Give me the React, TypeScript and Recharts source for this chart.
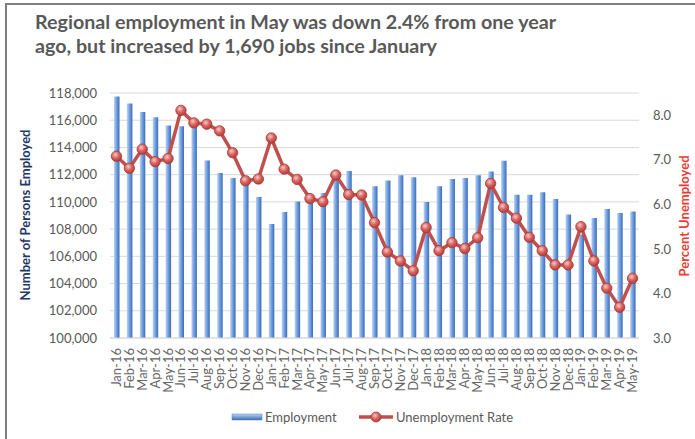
import React from 'react';
import { ComposedChart, Bar, Line, XAxis, YAxis, CartesianGrid } from 'recharts';

const months = [
  'Jan-16', 'Feb-16', 'Mar-16', 'Apr-16', 'May-16', 'Jun-16', 'Jul-16', 'Aug-16', 'Sep-16', 'Oct-16', 'Nov-16', 'Dec-16',
  'Jan-17', 'Feb-17', 'Mar-17', 'Apr-17', 'May-17', 'Jun-17', 'Jul-17', 'Aug-17', 'Sep-17', 'Oct-17', 'Nov-17', 'Dec-17',
  'Jan-18', 'Feb-18', 'Mar-18', 'Apr-18', 'May-18', 'Jun-18', 'Jul-18', 'Aug-18', 'Sep-18', 'Oct-18', 'Nov-18', 'Dec-18',
  'Jan-19', 'Feb-19', 'Mar-19', 'Apr-19', 'May-19',
];

const employment = [
  117750, 117220, 116600, 116210, 115620, 115550, 115700, 113050, 112130, 111760, 111600, 110360,
  108380, 109260, 110020, 110200, 110650, 112000, 112270, 110550, 111140, 111580, 111950, 111810,
  110000, 111150, 111690, 111760, 111950, 112240, 113030, 110530, 110530, 110700, 110210, 109070,
  107610, 108820, 109480, 109180, 109300,
];

const unemploymentRate = [
  7.08, 6.81, 7.24, 6.96, 7.03, 8.11, 7.83, 7.8, 7.65, 7.16, 6.53, 6.57,
  7.49, 6.79, 6.56, 6.13, 6.06, 6.66, 6.22, 6.21, 5.59, 4.93, 4.73, 4.51,
  5.48, 4.96, 5.14, 5.01, 5.25, 6.47, 5.93, 5.69, 5.26, 4.96, 4.64, 4.64,
  5.5, 4.73, 4.12, 3.69, 4.34,
];

const leftTicks = [100000, 102000, 104000, 106000, 108000, 110000, 112000, 114000, 116000, 118000];
const rightTicks = [3, 4, 5, 6, 7, 8];

const data = months.map((month, i) => ({
  month,
  employment: employment[i],
  rate: unemploymentRate[i],
}));

const FONT = 'Lato, "Open Sans", sans-serif';
const TEXT_GRAY = '#595959';
const LINE_RED = '#C0504D';

const MonthTick = (props: any) => {
  const { x, y, payload } = props;
  return (
    <g transform={`translate(${x},${y})`}>
      <text
        x={0}
        y={0}
        dy={4.5}
        textAnchor="end"
        transform="rotate(-90)"
        fontSize={13}
        fontFamily={FONT}
        fill="#666666"
      >
        {payload.value}
      </text>
    </g>
  );
};

const RateDot = (props: any) => {
  const { cx, cy, index } = props;
  if (cx == null || cy == null) return null;
  return (
    <circle key={`dot-${index}`} cx={cx} cy={cy} r={5.2} fill="url(#dotGrad)" stroke="#A23B38" strokeWidth={0.8} />
  );
};

export default function App() {
  return (
    <div style={{ position: 'absolute', left: 0, top: 0, width: 695, height: 439, background: '#fff', overflow: 'hidden' }}>
      <div
        style={{
          position: 'absolute',
          left: 5,
          top: 3,
          width: 700,
          height: 434,
          borderLeft: '2px solid #7f7f7f',
          borderTop: '2px solid #7f7f7f',
          borderBottom: '1px solid #e3e3e3',
        }}
      />
      <div
        style={{
          position: 'absolute',
          left: 35,
          top: 10,
          fontFamily: FONT,
          fontWeight: 700,
          fontSize: 19.7,
          lineHeight: '24px',
          color: TEXT_GRAY,
          whiteSpace: 'nowrap',
        }}
      >
        Regional employment in May was down 2.4% from one year
        <br />
        ago, but increased by 1,690 jobs since January
      </div>

      <div style={{ position: 'absolute', left: 0, top: 0 }}>
        <ComposedChart
          width={695}
          height={439}
          data={data}
          margin={{ top: 93, right: 0, bottom: 0, left: 0 }}
          barCategoryGap={0}
        >
          <defs>
            <linearGradient id="barGrad" x1="0" y1="0" x2="1" y2="0">
              <stop offset="0%" stopColor="#BCD5F4" />
              <stop offset="45%" stopColor="#75A2E2" />
              <stop offset="100%" stopColor="#3A6BB8" />
            </linearGradient>
            <radialGradient id="dotGrad" cx="40%" cy="35%" r="65%">
              <stop offset="0%" stopColor="#F7C9C7" />
              <stop offset="55%" stopColor="#D9605C" />
              <stop offset="100%" stopColor="#B0403C" />
            </radialGradient>
          </defs>
          <CartesianGrid yAxisId="left" vertical={false} stroke="#D9D9D9" />
          <XAxis
            dataKey="month"
            interval={0}
            height={101}
            tick={<MonthTick />}
            tickLine={false}
            tickSize={0}
            tickMargin={10}
            axisLine={{ stroke: '#D9D9D9' }}
          />
          <YAxis
            yAxisId="left"
            orientation="left"
            width={110}
            domain={[100000, 118000]}
            ticks={leftTicks}
            allowDataOverflow
            axisLine={false}
            tickLine={false}
            tickSize={0}
            tickMargin={13}
            tickFormatter={(v: number) => v.toLocaleString('en-US')}
            tick={{ fontSize: 13, fontFamily: FONT, fill: TEXT_GRAY }}
          />
          <YAxis
            yAxisId="right"
            orientation="right"
            width={56}
            domain={[3, 8.5]}
            ticks={rightTicks}
            allowDataOverflow
            axisLine={false}
            tickLine={false}
            tickSize={0}
            tickMargin={14}
            tickFormatter={(v: number) => v.toFixed(1)}
            tick={{ fontSize: 13, fontFamily: FONT, fill: TEXT_GRAY, textAnchor: 'start' }}
          />
          <Bar
            yAxisId="left"
            dataKey="employment"
            fill="url(#barGrad)"
            barSize={5.5}
            isAnimationActive={false}
          />
          <Line
            yAxisId="right"
            dataKey="rate"
            type="linear"
            stroke={LINE_RED}
            strokeWidth={3.5}
            dot={<RateDot />}
            activeDot={false}
            isAnimationActive={false}
          />
        </ComposedChart>
      </div>

      <svg width={695} height={439} style={{ position: 'absolute', left: 0, top: 0, pointerEvents: 'none' }}>
        <defs>
          <linearGradient id="legBarGrad" x1="0" y1="0" x2="0" y2="1">
            <stop offset="0%" stopColor="#BCD5F4" />
            <stop offset="100%" stopColor="#3A6BB8" />
          </linearGradient>
          <radialGradient id="legDotGrad" cx="40%" cy="35%" r="65%">
            <stop offset="0%" stopColor="#F7C9C7" />
            <stop offset="55%" stopColor="#D9605C" />
            <stop offset="100%" stopColor="#B0403C" />
          </radialGradient>
        </defs>
        <text
          transform="translate(30,215) rotate(-90)"
          textAnchor="middle"
          fontFamily={FONT}
          fontWeight={700}
          fontSize={13}
          fill="#1F3864"
        >
          Number of Persons Employed
        </text>
        <text
          transform="translate(689,216) rotate(-90)"
          textAnchor="middle"
          fontFamily={FONT}
          fontWeight={700}
          fontSize={13}
          fill="#EE3B33"
        >
          Percent Unemployed
        </text>

        <rect x={232} y={414} width={30} height={6} fill="url(#legBarGrad)" stroke="#4F7FC8" strokeWidth={0.5} />
        <text x={265} y={422} fontFamily={FONT} fontSize={13} fill={TEXT_GRAY}>
          Employment
        </text>
        <line x1={359} y1={417} x2={393} y2={417} stroke={LINE_RED} strokeWidth={3.5} />
        <circle cx={376} cy={417} r={5} fill="url(#legDotGrad)" stroke="#A23B38" strokeWidth={0.8} />
        <text x={396} y={422} fontFamily={FONT} fontSize={13} fill={TEXT_GRAY}>
          Unemployment Rate
        </text>
      </svg>
    </div>
  );
}
